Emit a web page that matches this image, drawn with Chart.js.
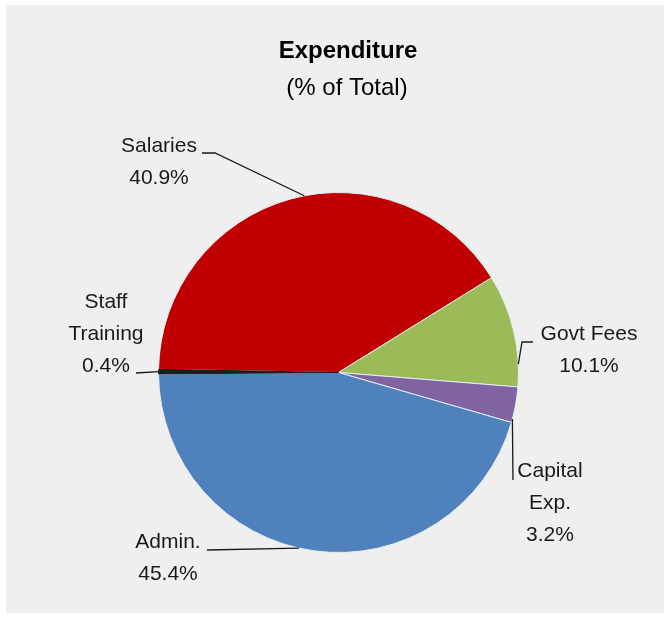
<!DOCTYPE html>
<html>
<head>
<meta charset="utf-8">
<script src="https://cdn.jsdelivr.net/npm/chart.js@4.4.1/dist/chart.umd.min.js"></script>
<style>
  html, body { margin: 0; padding: 0; background: #fff; }
  canvas { display: block; }
</style>
</head>
<body>
<canvas id="chart" width="671" height="626"></canvas>
<script>
// expenditure share, % of total (clockwise from the Salaries slice)
const categories = [['Salaries'], ['Govt Fees'], ['Capital', 'Exp.'], ['Admin.'], ['Staff', 'Training']];
const shares = [40.9, 10.1, 3.2, 45.4, 0.4];
const sliceColors = ['#c00000', '#9bbb59', '#8064a2', '#4f81bd', '#1c1c1c'];

// where each label sits and where its leader line starts (the line ends on the slice)
const labelSpots = [
    { x: 159, y: 152, line: [[202, 153], [215, 153]], t: 0.53 },
    { x: 589, y: 340, line: [[533, 342], [522, 342]], t: 0.8 },
    { x: 550, y: 477, line: [[513, 480]], t: 0.9 },
    { x: 168, y: 548, line: [[207, 550]], t: 0.53 },
    { x: 106, y: 308, line: [[136, 373]], t: 0.5 },
];

const FONT = "'Liberation Sans', Arial, sans-serif";

const overlay = {
    id: 'overlay',
    beforeDraw(chart) {
        const ctx = chart.ctx;
        ctx.save();
        ctx.fillStyle = '#ffffff';
        ctx.fillRect(0, 0, chart.width, chart.height);
        ctx.fillStyle = '#efefef';
        ctx.fillRect(6, 5, 658, 608);
        ctx.restore();
    },
    afterDatasetsDraw(chart) {
        const ctx = chart.ctx;
        const arcs = chart.getDatasetMeta(0).data;
        ctx.save();

        // title
        ctx.fillStyle = '#000';
        ctx.textAlign = 'center';
        ctx.textBaseline = 'alphabetic';
        ctx.font = 'bold 24px ' + FONT;
        ctx.fillText('Expenditure', 348, 58);
        ctx.font = '24px ' + FONT;
        ctx.fillText('(% of Total)', 347, 95);

        // leader lines
        ctx.strokeStyle = '#1a1a1a';
        ctx.lineWidth = 1.3;
        arcs.forEach((arc, i) => {
            const p = arc.getProps(['x', 'y', 'startAngle', 'endAngle', 'outerRadius'], true);
            const spot = labelSpots[i];
            const a = p.startAngle + (p.endAngle - p.startAngle) * spot.t;
            const ex = p.x + Math.cos(a) * p.outerRadius;
            const ey = p.y + Math.sin(a) * p.outerRadius;
            ctx.beginPath();
            ctx.moveTo(spot.line[0][0], spot.line[0][1]);
            for (let k = 1; k < spot.line.length; k++) {
                ctx.lineTo(spot.line[k][0], spot.line[k][1]);
            }
            ctx.lineTo(ex, ey);
            ctx.stroke();
        });

        // labels
        ctx.fillStyle = '#1a1a1a';
        ctx.font = '21px ' + FONT;
        categories.forEach((name, i) => {
            const lines = name.concat([shares[i].toFixed(1) + '%']);
            const spot = labelSpots[i];
            lines.forEach((txt, k) => {
                ctx.fillText(txt, spot.x, spot.y + k * 32);
            });
        });
        ctx.restore();
    }
};

new Chart(document.getElementById('chart').getContext('2d'), {
    type: 'pie',
    data: {
        labels: categories.map(c => c.join(' ')),
        datasets: [{
            data: shares,
            backgroundColor: sliceColors,
            borderColor: ['#e4ecf5', '#e4ecf5', '#e4ecf5', '#e4ecf5', '#1c1c1c'],
            borderWidth: 1,
        }]
    },
    options: {
        responsive: false,
        animation: false,
        devicePixelRatio: 1,
        rotation: 271,
        layout: {
            padding: { left: 158, top: 192, right: 152, bottom: 73 }
        },
        plugins: {
            legend: { display: false },
            tooltip: { enabled: false },
            title: { display: false }
        }
    },
    plugins: [overlay]
});
</script>
</body>
</html>
